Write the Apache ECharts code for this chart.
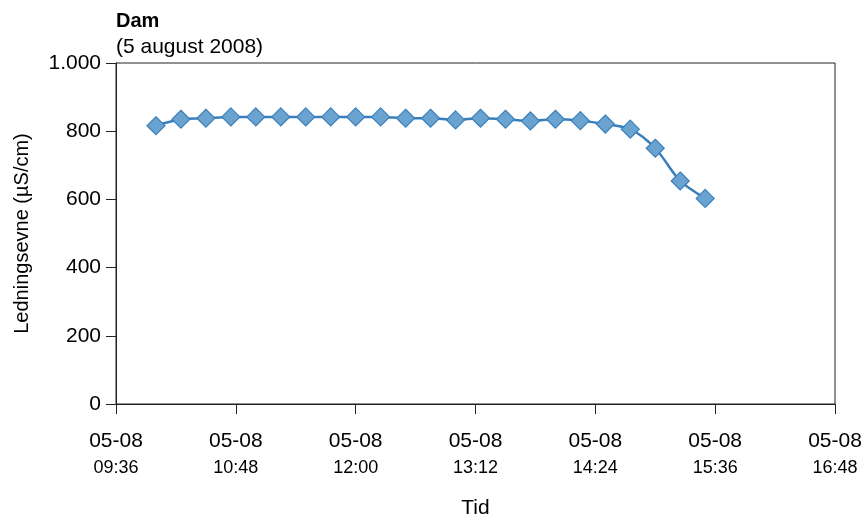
<!DOCTYPE html>
<html>
<head>
<meta charset="utf-8">
<script src="https://cdn.jsdelivr.net/npm/echarts@6/dist/echarts.min.js"></script>
<style>
  html, body { margin: 0; padding: 0; background: #fff; }
  #chart { width: 864px; height: 515px; }
</style>
</head>
<body>
<div id="chart"></div>
<script>
// malinger 5 august 2008, klokkeslett
var times = ['10:00', '10:15', '10:30', '10:45', '11:00', '11:15', '11:30', '11:45',
  '12:00', '12:15', '12:30', '12:45', '13:00', '13:15', '13:30', '13:45',
  '14:00', '14:15', '14:30', '14:45', '15:00', '15:15', '15:30']
// ledningsevne (µS/cm)
var values = [816, 835, 838, 842, 842, 842, 842, 842, 842, 842, 838, 838,
  833, 838, 835, 830, 835, 831, 821, 806, 750, 654, 603]
var dateLabel = '05-08'

function toMin(t) {
  var p = t.split(':')
  return Number(p[0]) * 60 + Number(p[1])
}
function pad(n) {
  return (n < 10 ? '0' : '') + n
}

var chart = echarts.init(document.getElementById('chart'))
chart.setOption({
  animation: false,
  textStyle: { fontFamily: 'Liberation Sans, Arial, sans-serif', color: '#000' },
  title: {
    text: 'Dam',
    subtext: '(5 august 2008)',
    left: 111,
    top: 6,
    itemGap: 6,
    textStyle: { fontSize: 20, fontWeight: 'bold', color: '#000' },
    subtextStyle: { fontSize: 21, color: '#000' }
  },
  grid: {
    left: 116,
    right: 29,
    top: 63,
    bottom: 111,
    outerBoundsMode: 'none',
    show: true,
    borderColor: '#222',
    borderWidth: 1
  },
  xAxis: {
    type: 'value',
    min: 576,
    max: 1008,
    interval: 72,
    name: 'Tid',
    nameLocation: 'middle',
    nameGap: 94,
    nameTextStyle: { fontSize: 21, color: '#000' },
    splitLine: { show: false },
    axisLine: { lineStyle: { color: '#222' } },
    axisTick: { length: 10, lineStyle: { color: '#222' } },
    axisLabel: {
      margin: 22,
      formatter: function (v) {
        return '{a|' + dateLabel + '}\n{b|' + pad(Math.floor(v / 60)) + ':' + pad(v % 60) + '}'
      },
      rich: {
        a: { fontSize: 21, color: '#000', lineHeight: 30 },
        b: { fontSize: 18, color: '#000', lineHeight: 25 }
      }
    }
  },
  yAxis: {
    type: 'value',
    min: 0,
    max: 1000,
    interval: 200,
    name: 'Ledningsevne (µS/cm)',
    nameLocation: 'middle',
    nameGap: 84,
    nameTextStyle: { fontSize: 20, color: '#000' },
    splitLine: { show: false },
    axisLine: { show: true, lineStyle: { color: '#222' } },
    axisTick: { show: true, length: 10, lineStyle: { color: '#222' } },
    axisLabel: {
      fontSize: 21,
      color: '#000',
      margin: 15,
      formatter: function (v) {
        return v >= 1000 ? Math.floor(v / 1000) + '.' + String(v % 1000).padStart(3, '0') : String(v)
      }
    }
  },
  series: [
    {
      type: 'line',
      smooth: 0.3,
      data: times.map(function (t, i) { return [toMin(t), values[i]] }),
      symbol: 'diamond',
      symbolSize: 18,
      lineStyle: { color: '#3a7fbc', width: 2.5 },
      itemStyle: { color: '#6aa3d0', borderColor: '#3d80ba', borderWidth: 1.2 }
    }
  ]
})
</script>
</body>
</html>
